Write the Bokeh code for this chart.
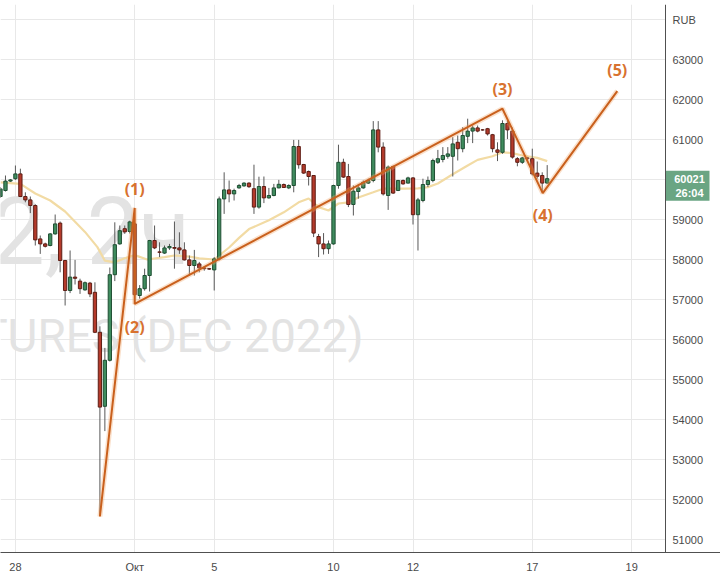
from bokeh.plotting import figure
from bokeh.models import Range1d, FixedTicker, ColumnDataSource, Span
from bokeh.core.properties import value
from bokeh.embed import file_html
from bokeh.resources import INLINE

# ---------------- data (2-hour bars, index 0 = first bar of 28 Sep) ----------------
bar_index = list(range(-3, 108))
opens = [59575, 59725, 59960, 60020, 60140, 59575, 59490, 59350, 58515, 58390,
         58350, 58640, 58910, 57975, 57225, 57560, 57460, 57240, 57410, 57180,
         56180, 54330, 55480, 57620, 58390, 58770, 58700, 58890, 57100, 57270,
         57600, 58475, 58190, 58160, 58290, 58300, 58290, 58240, 57990, 57850,
         57890, 57790, 57770, 57740, 58015, 59515, 59740, 59640, 59790, 59840,
         59910, 59770, 59310, 59825, 59540, 59600, 59790, 59875, 59790, 59850,
         60825, 60375, 60200, 60100, 58575, 58390, 58270, 58390, 59850, 60430,
         60075, 59375, 59700, 59790, 59910, 59975, 61240, 60810, 59600, 60325,
         59725, 59975, 59910, 60040, 59120, 59475, 59875, 59975, 60430, 60500,
         60580, 60580, 60930, 60770, 61080, 61210, 61290, 61240, 61270, 61120,
         60740, 60680, 61400, 61210, 60520, 60430, 60540, 60520, 60160, 60100,
         59910]
highs = [59810, 60100, 60010, 60350, 60270, 59680, 59575, 59380, 58600, 58420,
         58660, 59125, 58950, 57990, 58225, 57990, 57520, 57450, 57440, 57430,
         56330, 55790, 57800, 58930, 58850, 58850, 58970, 58930, 57360, 57770,
         58490, 58850, 58430, 58350, 58390, 58950, 58680, 58430, 58100, 58240,
         57940, 57820, 57790, 58060, 59575, 60180, 59975, 59770, 59890, 59930,
         59930, 60370, 60070, 60075, 59790, 59890, 59990, 59900, 59880, 60990,
         60990, 60390, 60225, 60100, 58640, 58660, 58475, 59870, 60870, 60520,
         60390, 59850, 59890, 59975, 60020, 61460, 61460, 60930, 60350, 60350,
         59990, 60000, 60070, 60060, 59540, 60020, 60075, 60520, 60740, 60810,
         60810, 61060, 61100, 61310, 61520, 61350, 61350, 61260, 61290, 61140,
         60930, 61480, 61480, 61300, 60560, 60560, 60560, 60770, 60450, 60180,
         60360]
lows = [59540, 59700, 59940, 59990, 59560, 59430, 59160, 58350, 58140, 58300,
        58330, 58620, 57680, 56850, 57160, 57375, 57140, 57220, 57060, 56160,
        51600, 53710, 55450, 57460, 58370, 58640, 58650, 56890, 57020, 57220,
        57200, 58260, 58060, 58140, 58240, 57770, 58140, 57975, 57600, 57600,
        57680, 57720, 57740, 57225, 57975, 59140, 59430, 59475, 59770, 59820,
        59790, 59140, 59270, 59410, 59520, 59580, 59780, 59790, 59760, 59680,
        60270, 60140, 59850, 58560, 58060, 58125, 58140, 58370, 59770, 60040,
        59310, 59100, 59520, 59770, 59890, 59930, 60680, 59600, 59240, 59640,
        59710, 59870, 59900, 58875, 58225, 59430, 59810, 59930, 60390, 60430,
        60520, 60075, 60475, 60680, 60910, 60910, 61180, 61220, 61100, 60680,
        60460, 60640, 61010, 60520, 60330, 60390, 60480, 60100, 60020, 59680,
        59890]
closes = [59765, 59960, 59990, 60140, 59575, 59490, 59350, 58490, 58390, 58330,
          58640, 58890, 57975, 57225, 57560, 57530, 57270, 57420, 57140, 56180,
          54310, 55480, 57620, 58370, 58720, 58690, 58940, 57120, 57270, 57600,
          58475, 58290, 58180, 58290, 58325, 58280, 58240, 57990, 57850, 57975,
          57790, 57770, 57760, 58015, 59515, 59740, 59640, 59725, 59850, 59910,
          59820, 59310, 59825, 59540, 59600, 59790, 59880, 59800, 59850, 60825,
          60370, 60160, 60075, 58660, 58390, 58270, 58390, 59850, 60430, 60060,
          59375, 59710, 59790, 59930, 59975, 61240, 60810, 59640, 60310, 59660,
          59975, 59890, 60040, 59120, 59490, 59875, 59975, 60475, 60520, 60600,
          60640, 60890, 60770, 61100, 61210, 61290, 61210, 61240, 61140, 60770,
          60680, 61400, 61240, 60560, 60430, 60540, 60520, 60140, 60080, 59910,
          60021]

# moving average
ma_x = [-3, 1, 4, 7, 10, 14, 16.5, 18, 20, 22, 24, 26.5, 30, 32, 35, 37, 40, 43,
        45, 47, 51, 54, 57, 59, 61, 63, 65, 67, 69, 72, 74, 78, 81, 83, 85, 88,
        91, 93, 96, 98, 100, 102, 105, 107]
ma_y = [59930, 59890, 59650, 59475, 59200, 58690, 58310, 57970, 57930, 58030,
        58110, 58000, 58060, 58100, 58070, 58030, 58000, 58300, 58540, 58760,
        58980, 59180, 59430, 59525, 59310, 59225, 59400, 59430, 59550, 59680,
        59770, 59770, 59780, 59810, 59900, 60130, 60350, 60490, 60580, 60680,
        60660, 60600, 60540, 60460]

# Elliott wave path
wave_x = [17, 24, 24, 98, 106.1, 121.1]
wave_y = [51575, 59290, 56890, 61770, 59660, 62210]
wave_labels = ["(1)", "(2)", "(3)", "(4)", "(5)"]

x_tick_pos = [0, 24, 40, 64, 80, 104, 124]
x_tick_labels = ["28", "Окт", "5", "10", "12", "17", "19"]
y_ticks = [51000, 52000, 53000, 54000, 55000, 56000, 57000, 58000, 59000,
           60000, 61000, 62000, 63000, 64000]
y_unit = "RUB"
last_price = 60021
bar_timer = "26:04"
watermark_1 = "2, 2ч"
watermark_2 = "TURES (DEC 2022)"

# ---------------- layout constants ----------------
PX = 4.97                        # pixels per bar
W = 720                          # frame spans the whole width; price scale drawn inside it
X0 = -3.0
X1 = X0 + W / PX
XS = X0 + 665 / PX               # left edge of the price scale
def px(v):                       # screen x -> data x
    return X0 + v / PX

p = figure(width=720, height=582, x_range=Range1d(X0, X1), y_range=Range1d(50675, 64375),
           y_axis_location="right", output_backend="svg", toolbar_location=None,
           min_border_left=0, min_border_right=0, min_border_top=4, min_border_bottom=30)
p.outline_line_color = None
p.background_fill_color = "white"
p.border_fill_color = "white"

# x axis
p.xaxis.ticker = FixedTicker(ticks=x_tick_pos)
p.xaxis.major_label_overrides = {t: l for t, l in zip(x_tick_pos, x_tick_labels)}
# y axis (price scale), labels placed right of the scale line
p.yaxis.ticker = FixedTicker(ticks=y_ticks)
ov = {t: str(t) for t in y_ticks}
ov[64000] = y_unit
ov[60000] = ""                   # hidden by the last-price tag
p.yaxis.major_label_overrides = ov
p.yaxis.fixed_location = px(702)
p.yaxis.major_label_standoff = -30
p.yaxis.axis_line_color = None
for ax in (p.xaxis[0], p.yaxis[0]):
    ax.major_tick_line_color = None
    ax.minor_tick_line_color = None
    ax.major_tick_out = 0
    ax.major_tick_in = 0
    ax.major_label_text_font = "Liberation Sans"
    ax.major_label_text_font_size = "11px"
    ax.major_label_text_color = "#4a4a4a"
p.xaxis.axis_line_color = "#505050"
p.xaxis.major_label_standoff = 8
p.xgrid.grid_line_color = "#e8e8e8"
p.ygrid.visible = False

# horizontal grid lines, only over the chart pane
n = len(y_ticks)
p.segment(x0=[X0] * n, y0=y_ticks, x1=[XS] * n, y1=y_ticks, line_color="#e8e8e8", line_width=1)
p.add_layout(Span(location=XS, dimension="height", line_color="#505050", line_width=1))

# watermark (left part clipped by the pane edge)
p.text(x=[px(190)], y=[58700], text=[watermark_1], text_font=value("Roboto"),
       text_font_size="94px", text_color="#e3e3e3", text_align="right",
       text_baseline="middle")
p.text(x=[px(363)], y=[56100], text=[watermark_2], text_font=value("Roboto"),
       text_font_size="46px", text_color="#e3e3e3", text_align="right",
       text_baseline="middle")

# moving average
p.line(ma_x, ma_y, line_color="#f2dba4", line_width=2.2)

# candles
up_idx = [k for k in range(len(bar_index)) if closes[k] > opens[k]]
dn_idx = [k for k in range(len(bar_index)) if closes[k] <= opens[k]]
p.segment(x0=bar_index, y0=lows, x1=bar_index, y1=highs, line_color="#585858", line_width=1)

def body_src(idx):
    return ColumnDataSource(dict(
        x=[bar_index[k] for k in idx],
        top=[max(opens[k], closes[k]) for k in idx],
        bottom=[min(opens[k], closes[k]) for k in idx]))

p.vbar(x="x", top="top", bottom="bottom", width=0.66, source=body_src(up_idx),
       fill_color="#3f8c5e", line_color="#1f4f33", line_width=1)
p.vbar(x="x", top="top", bottom="bottom", width=0.66, source=body_src(dn_idx),
       fill_color="#b43a2b", line_color="#5e1e15", line_width=1)

# Elliott waves
p.line(wave_x, wave_y, line_color="#f2a66a", line_width=5, line_alpha=0.35)
p.line(wave_x, wave_y, line_color="#c9601d", line_width=2)
lab_off = [19, -23, 20, -22, 21]
for k, t in enumerate(wave_labels):
    p.text(x=[wave_x[k + 1]], y=[wave_y[k + 1]], text=[t], y_offset=-lab_off[k],
           text_font=value("Open Sans"), text_font_size="16px", text_font_style="bold",
           text_color="#d8722f", text_align="center", text_baseline="middle")

# last price tag on the price scale
TAG = "#6aa583"
p.quad(left=[XS], right=[px(709)], top=[last_price + 8 * 25], bottom=[last_price - 22 * 25],
       fill_color=TAG, line_color=None)
p.text(x=[px(689)] * 2, y=[last_price, last_price - 14 * 25], text=[str(last_price), bar_timer],
       text_font=value("Liberation Sans"), text_font_size="11px", text_font_style="bold",
       text_color="white", text_align="center", text_baseline="middle")

open("out.html", "w").write(file_html(p, INLINE))
